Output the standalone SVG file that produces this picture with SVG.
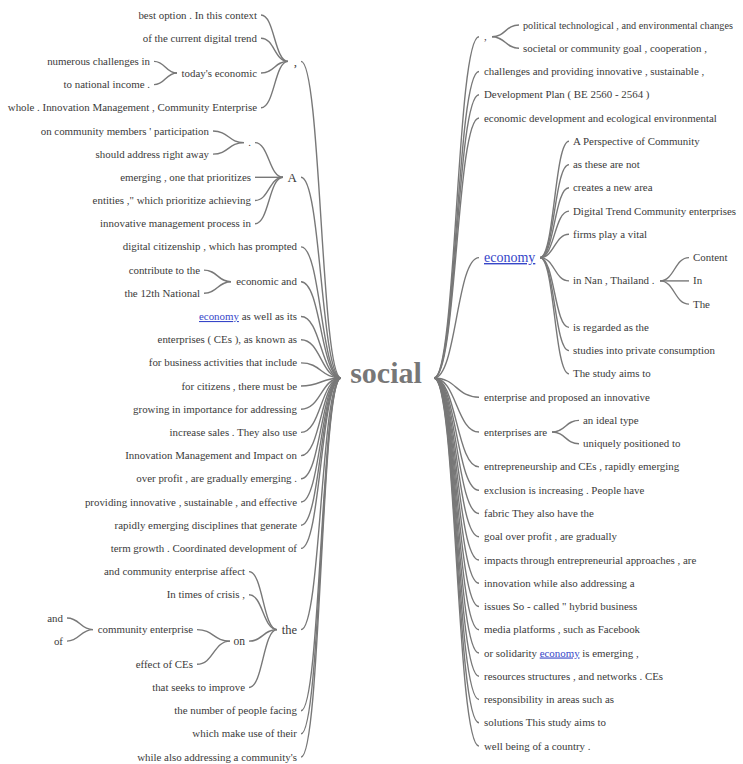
<svg xmlns="http://www.w3.org/2000/svg" width="743" height="764" viewBox="0 0 743 764">
<style>
text{font-family:"Liberation Serif","DejaVu Serif",serif;font-size:10.9px;fill:#3a3a3a}
.l{text-anchor:end}
.r{text-anchor:start}
.lk{fill:#3646c8;text-decoration:underline}
.big{font-size:13px}
.root{font-size:30px;font-weight:bold;fill:#777;text-anchor:middle}
#connectors path{fill:none;stroke:#787878;stroke-width:1.4}
</style>
<rect width="743" height="764" fill="#fff"/>
<g id="connectors">
<path d="M301 61.4C321 61.4 321 378 341 378"/>
<path d="M301 177.3C321 177.3 321 378 341 378"/>
<path d="M301 246.9C321 246.9 321 378 341 378"/>
<path d="M301 281.7C321 281.7 321 378 341 378"/>
<path d="M301 316.5C321 316.5 321 378 341 378"/>
<path d="M301 339.7C321 339.7 321 378 341 378"/>
<path d="M301 362.9C321 362.9 321 378 341 378"/>
<path d="M301 386C321 386 321 378 341 378"/>
<path d="M301 409.2C321 409.2 321 378 341 378"/>
<path d="M301 432.4C321 432.4 321 378 341 378"/>
<path d="M301 455.6C321 455.6 321 378 341 378"/>
<path d="M301 478.8C321 478.8 321 378 341 378"/>
<path d="M301 502C321 502 321 378 341 378"/>
<path d="M301 525.2C321 525.2 321 378 341 378"/>
<path d="M301 548.4C321 548.4 321 378 341 378"/>
<path d="M301 629.6C321 629.6 321 378 341 378"/>
<path d="M301 710.7C321 710.7 321 378 341 378"/>
<path d="M301 733.9C321 733.9 321 378 341 378"/>
<path d="M301 757.1C321 757.1 321 378 341 378"/>
<path d="M261 15C274.5 15 274.5 61.4 288 61.4"/>
<path d="M261 38.2C274.5 38.2 274.5 61.4 288 61.4"/>
<path d="M261 73C274.5 73 274.5 61.4 288 61.4"/>
<path d="M261 107.8C274.5 107.8 274.5 61.4 288 61.4"/>
<path d="M154 61.4C165.5 61.4 165.5 73 177 73"/>
<path d="M154 84.6C165.5 84.6 165.5 73 177 73"/>
<path d="M255 142.6C269 142.6 269 177.3 283 177.3"/>
<path d="M255 177.3C269 177.3 269 177.3 283 177.3"/>
<path d="M255 200.5C269 200.5 269 177.3 283 177.3"/>
<path d="M255 223.7C269 223.7 269 177.3 283 177.3"/>
<path d="M213 131C228.5 131 228.5 142.6 244 142.6"/>
<path d="M213 154.1C228.5 154.1 228.5 142.6 244 142.6"/>
<path d="M204 270.1C217.5 270.1 217.5 281.7 231 281.7"/>
<path d="M204 293.3C217.5 293.3 217.5 281.7 231 281.7"/>
<path d="M249 571.6C263 571.6 263 629.6 277 629.6"/>
<path d="M249 594.8C263 594.8 263 629.6 277 629.6"/>
<path d="M249 641.1C263 641.1 263 629.6 277 629.6"/>
<path d="M249 687.5C263 687.5 263 629.6 277 629.6"/>
<path d="M197 629.6C213.5 629.6 213.5 641.1 230 641.1"/>
<path d="M197 664.3C213.5 664.3 213.5 641.1 230 641.1"/>
<path d="M67 618C80 618 80 629.6 93 629.6"/>
<path d="M67 641.1C80 641.1 80 629.6 93 629.6"/>
<path d="M434 378C456.5 378 456.5 36.7 479 36.7"/>
<path d="M434 378C456.5 378 456.5 71.5 479 71.5"/>
<path d="M434 378C456.5 378 456.5 94.8 479 94.8"/>
<path d="M434 378C456.5 378 456.5 118 479 118"/>
<path d="M434 378C456.5 378 456.5 257.6 479 257.6"/>
<path d="M434 378C456.5 378 456.5 397.2 479 397.2"/>
<path d="M434 378C456.5 378 456.5 432 479 432"/>
<path d="M434 378C456.5 378 456.5 466.9 479 466.9"/>
<path d="M434 378C456.5 378 456.5 490.2 479 490.2"/>
<path d="M434 378C456.5 378 456.5 513.5 479 513.5"/>
<path d="M434 378C456.5 378 456.5 536.7 479 536.7"/>
<path d="M434 378C456.5 378 456.5 560 479 560"/>
<path d="M434 378C456.5 378 456.5 583.2 479 583.2"/>
<path d="M434 378C456.5 378 456.5 606.5 479 606.5"/>
<path d="M434 378C456.5 378 456.5 629.8 479 629.8"/>
<path d="M434 378C456.5 378 456.5 653 479 653"/>
<path d="M434 378C456.5 378 456.5 676.3 479 676.3"/>
<path d="M434 378C456.5 378 456.5 699.5 479 699.5"/>
<path d="M434 378C456.5 378 456.5 722.8 479 722.8"/>
<path d="M434 378C456.5 378 456.5 746.1 479 746.1"/>
<path d="M492 36.7C505.5 36.7 505.5 25 519 25"/>
<path d="M492 36.7C505.5 36.7 505.5 48.3 519 48.3"/>
<path d="M540 257.6C554.5 257.6 554.5 141.3 569 141.3"/>
<path d="M540 257.6C554.5 257.6 554.5 164.6 569 164.6"/>
<path d="M540 257.6C554.5 257.6 554.5 187.8 569 187.8"/>
<path d="M540 257.6C554.5 257.6 554.5 211.1 569 211.1"/>
<path d="M540 257.6C554.5 257.6 554.5 234.3 569 234.3"/>
<path d="M540 257.6C554.5 257.6 554.5 280.9 569 280.9"/>
<path d="M540 257.6C554.5 257.6 554.5 327.4 569 327.4"/>
<path d="M540 257.6C554.5 257.6 554.5 350.6 569 350.6"/>
<path d="M540 257.6C554.5 257.6 554.5 373.9 569 373.9"/>
<path d="M660 280.9C674.5 280.9 674.5 257.6 689 257.6"/>
<path d="M660 280.9C674.5 280.9 674.5 280.9 689 280.9"/>
<path d="M660 280.9C674.5 280.9 674.5 304.1 689 304.1"/>
<path d="M552 432C565.5 432 565.5 420.4 579 420.4"/>
<path d="M552 432C565.5 432 565.5 443.7 579 443.7"/>
</g>
<g id="root"><text class="root" x="386" y="383">social</text></g>
<g id="n-comma-l"><text class="l big" x="297" y="65.5">,</text></g>
<g id="n-best"><text class="l" x="257" y="18.5">best option . In this context</text></g>
<g id="n-ofthe"><text class="l" x="257" y="41.7">of the current digital trend</text></g>
<g id="n-todays"><text class="l" x="257" y="76.5">today's economic</text></g>
<g id="n-numerous"><text class="l" x="150" y="64.9">numerous challenges in</text></g>
<g id="n-tonational"><text class="l" x="150" y="88.1">to national income .</text></g>
<g id="n-whole"><text class="l" x="257" y="111.3">whole . Innovation Management , Community Enterprise</text></g>
<g id="n-A"><text class="l big" x="297" y="181.8">A</text></g>
<g id="n-dot"><text class="l" x="251" y="146.1">.</text></g>
<g id="n-oncomm"><text class="l" x="209" y="134.5">on community members ' participation</text></g>
<g id="n-should"><text class="l" x="209" y="157.6">should address right away</text></g>
<g id="n-emerging"><text class="l" x="251" y="180.8">emerging , one that prioritizes</text></g>
<g id="n-entities"><text class="l" x="251" y="204">entities ," which prioritize achieving</text></g>
<g id="n-innovative"><text class="l" x="251" y="227.2">innovative management process in</text></g>
<g id="n-digital"><text class="l" x="297" y="250.4">digital citizenship , which has prompted</text></g>
<g id="n-econand"><text class="l" x="297" y="285.2">economic and</text></g>
<g id="n-contribute"><text class="l" x="200" y="273.6">contribute to the</text></g>
<g id="n-12th"><text class="l" x="200" y="296.8">the 12th National</text></g>
<g id="n-economy-l"><text class="l" x="297" y="320"><tspan class="lk">economy</tspan> as well as its</text></g>
<g id="n-enterprisesCEs"><text class="l" x="297" y="343.2">enterprises ( CEs ), as known as</text></g>
<g id="n-forbusiness"><text class="l" x="297" y="366.4">for business activities that include</text></g>
<g id="n-forcitizens"><text class="l" x="297" y="389.5">for citizens , there must be</text></g>
<g id="n-growing"><text class="l" x="297" y="412.7">growing in importance for addressing</text></g>
<g id="n-increase"><text class="l" x="297" y="435.9">increase sales . They also use</text></g>
<g id="n-innovmgmt"><text class="l" x="297" y="459.1">Innovation Management and Impact on</text></g>
<g id="n-overprofit"><text class="l" x="297" y="482.3">over profit , are gradually emerging .</text></g>
<g id="n-providing"><text class="l" x="297" y="505.5">providing innovative , sustainable , and effective</text></g>
<g id="n-rapidly"><text class="l" x="297" y="528.7">rapidly emerging disciplines that generate</text></g>
<g id="n-term"><text class="l" x="297" y="551.9">term growth . Coordinated development of</text></g>
<g id="n-the"><text class="l" x="297" y="633.8" style="font-size:12.5px">the</text></g>
<g id="n-andcomm"><text class="l" x="245" y="575.1">and community enterprise affect</text></g>
<g id="n-intimes"><text class="l" x="245" y="598.3">In times of crisis ,</text></g>
<g id="n-on"><text class="l" x="245" y="644.8" style="font-size:11.5px">on</text></g>
<g id="n-commenter"><text class="l" x="193" y="633.1">community enterprise</text></g>
<g id="n-and"><text class="l" x="63" y="621.5">and</text></g>
<g id="n-of"><text class="l" x="63" y="644.6">of</text></g>
<g id="n-effect"><text class="l" x="193" y="667.8">effect of CEs</text></g>
<g id="n-thatseeks"><text class="l" x="245" y="691">that seeks to improve</text></g>
<g id="n-number"><text class="l" x="297" y="714.2">the number of people facing</text></g>
<g id="n-whichmake"><text class="l" x="297" y="737.4">which make use of their</text></g>
<g id="n-while"><text class="l" x="297" y="760.6">while also addressing a community's</text></g>
<g id="n-comma-r"><text class="r" x="484" y="40.2">,</text></g>
<g id="n-political"><text class="r" x="523" y="28.5" style="font-size:10.2px">political technological , and environmental changes</text></g>
<g id="n-societal"><text class="r" x="523" y="51.8">societal or community goal , cooperation ,</text></g>
<g id="n-challenges"><text class="r" x="484" y="75">challenges and providing innovative , sustainable ,</text></g>
<g id="n-devplan"><text class="r" x="484" y="98.3">Development Plan ( BE 2560 - 2564 )</text></g>
<g id="n-econdev"><text class="r" x="484" y="121.5">economic development and ecological environmental</text></g>
<g id="n-economy-r"><text class="r lk" x="484" y="262" style="font-size:14px">economy</text></g>
<g id="n-perspective"><text class="r" x="573" y="144.8">A Perspective of Community</text></g>
<g id="n-asthese"><text class="r" x="573" y="168.1">as these are not</text></g>
<g id="n-creates"><text class="r" x="573" y="191.3">creates a new area</text></g>
<g id="n-digitaltrend"><text class="r" x="573" y="214.6">Digital Trend Community enterprises</text></g>
<g id="n-firms"><text class="r" x="573" y="237.8">firms play a vital</text></g>
<g id="n-innan"><text class="r" x="573" y="284.4">in Nan , Thailand .</text></g>
<g id="n-content"><text class="r" x="693" y="261.1">Content</text></g>
<g id="n-In"><text class="r" x="693" y="284.4">In</text></g>
<g id="n-The"><text class="r" x="693" y="307.6">The</text></g>
<g id="n-isregarded"><text class="r" x="573" y="330.9">is regarded as the</text></g>
<g id="n-studies"><text class="r" x="573" y="354.1">studies into private consumption</text></g>
<g id="n-studyaims"><text class="r" x="573" y="377.4">The study aims to</text></g>
<g id="n-enterpriseand"><text class="r" x="484" y="400.7">enterprise and proposed an innovative</text></g>
<g id="n-enterprisesare"><text class="r" x="484" y="435.5">enterprises are</text></g>
<g id="n-ideal"><text class="r" x="583" y="423.9">an ideal type</text></g>
<g id="n-uniquely"><text class="r" x="583" y="447.2">uniquely positioned to</text></g>
<g id="n-entrepreneurship"><text class="r" x="484" y="470.4">entrepreneurship and CEs , rapidly emerging</text></g>
<g id="n-exclusion"><text class="r" x="484" y="493.7">exclusion is increasing . People have</text></g>
<g id="n-fabric"><text class="r" x="484" y="517">fabric They also have the</text></g>
<g id="n-goal"><text class="r" x="484" y="540.2">goal over profit , are gradually</text></g>
<g id="n-impacts"><text class="r" x="484" y="563.5">impacts through entrepreneurial approaches , are</text></g>
<g id="n-innovation"><text class="r" x="484" y="586.7">innovation while also addressing a</text></g>
<g id="n-issues"><text class="r" x="484" y="610">issues So - called " hybrid business</text></g>
<g id="n-media"><text class="r" x="484" y="633.3">media platforms , such as Facebook</text></g>
<g id="n-solidarity"><text class="r" x="484" y="656.5">or solidarity <tspan class="lk">economy</tspan> is emerging ,</text></g>
<g id="n-resources"><text class="r" x="484" y="679.8">resources structures , and networks . CEs</text></g>
<g id="n-responsibility"><text class="r" x="484" y="703">responsibility in areas such as</text></g>
<g id="n-solutions"><text class="r" x="484" y="726.3">solutions This study aims to</text></g>
<g id="n-wellbeing"><text class="r" x="484" y="749.6">well being of a country .</text></g>
</svg>
